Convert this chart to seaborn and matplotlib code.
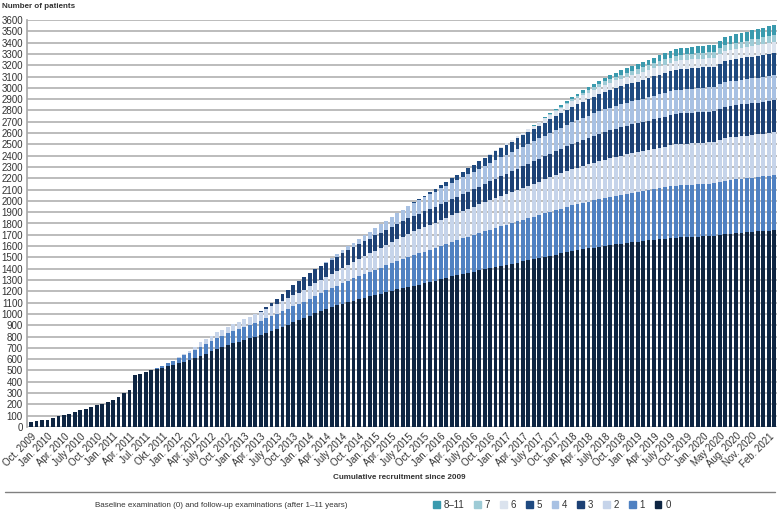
import matplotlib
matplotlib.use('Agg')

import matplotlib.pyplot as plt
from matplotlib.patches import Patch
from matplotlib.lines import Line2D
import seaborn as sns
import numpy as np
import pandas as pd

# tick labels, one every 3 bars (April 2020 has no bar)
TICK_LABELS = [
    'Oct. 2009', 'Jan. 2010', 'Apr. 2010', 'July 2010', 'Oct. 2010', 'Jan. 2011',
    'Apr. 2011', 'Jul. 2011', 'Okt. 2011', 'Jan. 2012', 'Apr. 2012', 'July 2012',
    'Oct. 2012', 'Jan. 2013', 'Apr. 2013', 'July 2013', 'Oct. 2013', 'Jan. 2014',
    'Apr. 2014', 'July 2014', 'Oct. 2014', 'Jan. 2015', 'Apr. 2015', 'July 2015',
    'Oct. 2015', 'Jan. 2016', 'Apr. 2016', 'July 2016', 'Oct. 2016', 'Jan. 2017',
    'Apr. 2017', 'July 2017', 'Oct. 2017', 'Jan. 2018', 'Apr. 2018', 'July 2018',
    'Oct. 2018', 'Jan. 2019', 'Apr. 2019', 'July 2019', 'Oct. 2019', 'Jan. 2020',
    'May 2020', 'Aug. 2020', 'Nov. 2020', 'Feb. 2021',
]

LAYER_NAMES = ['0', '1', '2', '3', '4', '5', '6', '7', '8–11']

# patients per examination wave, one value per month (Oct 2009 - Mar 2021)
exam_0 = [
    45, 55, 60, 63, 80, 95, 105, 112, 130, 148, 158, 178,
    192, 200, 225, 242, 265, 300, 330, 460, 470, 485, 500, 512,
    525, 538, 550, 562, 575, 590, 610, 628, 648, 668, 690, 708,
    725, 740, 755, 770, 785, 800, 815, 832, 850, 868, 885, 905,
    925, 945, 963, 985, 1005, 1025, 1045, 1060, 1075, 1090, 1105, 1118,
    1130, 1142, 1155, 1168, 1180, 1193, 1205, 1218, 1230, 1240, 1250, 1260,
    1270, 1280, 1292, 1305, 1318, 1332, 1344, 1355, 1365, 1375, 1385, 1395,
    1405, 1415, 1425, 1435, 1445, 1455, 1465, 1475, 1485, 1495, 1505, 1515,
    1525, 1535, 1545, 1555, 1563, 1571, 1579, 1587, 1595, 1603, 1610, 1617,
    1623, 1629, 1635, 1640, 1645, 1650, 1655, 1660, 1665, 1670, 1675, 1678,
    1680, 1682, 1684, 1686, 1688, 1690, 1698, 1706, 1710, 1714, 1718, 1722,
    1726, 1730, 1734, 1738, 1742,
]
exam_1 = [0] * 22 + [
    5, 10,
    18, 28, 38, 48, 58, 65, 72, 80, 85, 90, 95, 100,
    104, 107, 110, 114, 118, 121, 125, 128, 131, 134, 137, 139,
    141, 143, 145, 150, 155, 160, 165, 170, 175, 182, 189, 196,
    203, 209, 215, 222, 229, 236, 243, 250, 256, 263, 270, 275,
    280, 285, 290, 295, 300, 305, 309, 314, 319, 324, 330, 335,
    340, 345, 350, 354, 358, 363, 367, 371, 376, 380, 385, 389,
    393, 397, 401, 405, 409, 412, 415, 418, 421, 424, 427, 430,
    432, 435, 438, 440, 443, 446, 449, 452, 455, 458, 460, 461,
    462, 462, 463, 463, 464, 464, 470, 474, 476, 477, 478, 479,
    480, 481, 483, 485, 486,
]
exam_2 = [0] * 27 + [
    5, 12, 20, 30, 40, 44, 48, 51, 54,
    57, 60, 64, 68, 72, 76, 80, 83, 86, 89, 92, 95,
    98, 101, 103, 108, 112, 117, 121, 126, 130, 136, 142, 148,
    154, 160, 165, 171, 177, 182, 188, 193, 199, 204, 210, 214,
    218, 222, 226, 230, 233, 236, 239, 243, 247, 251, 255, 259,
    263, 267, 270, 274, 278, 281, 285, 289, 292, 296, 300, 304,
    308, 312, 316, 320, 323, 327, 330, 333, 336, 339, 341, 343,
    345, 347, 349, 350, 352, 354, 356, 358, 360, 362, 364, 365,
    365, 366, 366, 366, 367, 367, 371, 374, 375, 376, 377, 377,
    378, 378, 379, 379, 380,
]
exam_3 = [0] * 42 + [
    10, 20, 30, 45, 60, 75,
    90, 105, 118, 120, 122, 123, 124, 125, 126, 127, 128, 129,
    130, 131, 132, 133, 134, 135, 136, 137, 137, 138, 138, 139,
    139, 140, 140, 141, 141, 142, 142, 146, 150, 153, 157, 161,
    165, 169, 173, 177, 181, 185, 189, 193, 197, 201, 205, 209,
    213, 217, 221, 225, 228, 231, 234, 237, 240, 243, 245, 248,
    250, 252, 254, 255, 257, 259, 261, 263, 265, 267, 268, 269,
    269, 270, 270, 270, 271, 271, 275, 278, 279, 279, 280, 280,
    281, 281, 282, 282, 283,
]
exam_4 = [0] * 54 + [
    5, 10, 20, 27, 34, 40,
    47, 54, 60, 67, 74, 80, 87, 93, 100, 107, 115, 120,
    125, 130, 135, 139, 143, 147, 150, 152, 154, 156, 158, 160,
    162, 164, 166, 168, 170, 172, 174, 176, 178, 180, 182, 184,
    186, 188, 190, 192, 194, 195, 197, 198, 199, 200, 201, 202,
    203, 204, 205, 205, 206, 207, 208, 209, 210, 211, 212, 212,
    213, 213, 213, 213, 214, 214, 216, 217, 217, 218, 218, 219,
    219, 220, 220, 221, 221,
]
exam_5 = [0] * 70 + [
    5, 10,
    15, 20, 25, 30, 35, 40, 44, 49, 54, 59, 64, 69,
    74, 79, 84, 88, 92, 96, 100, 104, 108, 112, 116, 120,
    124, 128, 132, 136, 139, 142, 145, 148, 151, 154, 157, 159,
    161, 163, 165, 166, 168, 170, 172, 174, 176, 178, 180, 180,
    181, 181, 181, 182, 182, 182, 185, 188, 189, 190, 191, 192,
    193, 193, 194, 194, 195,
]
exam_6 = [0] * 84 + [
    5, 8, 12, 15, 18, 21, 24, 27, 30, 33, 36, 39,
    42, 45, 48, 51, 54, 56, 58, 60, 62, 64, 65, 66,
    67, 68, 69, 70, 71, 72, 73, 74, 75, 76, 77, 78,
    78, 79, 79, 79, 80, 80, 83, 86, 87, 88, 89, 90,
    91, 92, 93, 94, 95,
]
exam_7 = [0] * 94 + [
    3, 6,
    9, 12, 15, 18, 20, 22, 24, 26, 28, 30, 32, 34,
    36, 37, 38, 40, 41, 42, 43, 44, 45, 46, 47, 48,
    48, 48, 49, 49, 49, 50, 52, 55, 56, 57, 58, 59,
    60, 61, 62, 64, 65,
]
exam_8_11 = [0] * 92 + [
    3, 5, 7, 9,
    11, 13, 15, 17, 19, 21, 23, 25, 27, 30, 33, 36,
    39, 41, 43, 45, 47, 49, 51, 53, 55, 57, 59, 60,
    60, 60, 61, 61, 61, 62, 66, 70, 72, 74, 76, 78,
    80, 82, 84, 86, 88,
]

COLORS = ['#0e2542', '#4f81c2', '#c6d4ea', '#1d4175', '#a8c1e3',
          '#1f4a80', '#dbe3ee', '#9ecbd6', '#3a9aae']

layers = [exam_0, exam_1, exam_2, exam_3, exam_4, exam_5, exam_6, exam_7, exam_8_11]
n = len(exam_0)
tops = np.cumsum(np.array(layers), axis=0)

sns.set_theme(style='white')
plt.rcParams['font.family'] = ['Liberation Sans', 'DejaVu Sans']

fig = plt.figure(figsize=(7.78, 5.11), dpi=100)
ax = fig.add_axes([27 / 778, 1 - 427 / 511, 750 / 778, 407 / 511])

df = pd.DataFrame({'month': np.arange(n)})
# stacked bars: draw the cumulative tops from the highest layer down
for k in range(len(layers) - 1, -1, -1):
    df['top'] = tops[k]
    sns.barplot(data=df, x='month', y='top', color=COLORS[k], saturation=1,
                width=0.7, errorbar=None, linewidth=0, ax=ax)

ax.set_xlim(-0.75, n - 0.5)
ax.set_ylim(0, 3600)
ax.set_yticks(range(0, 3700, 100))
ax.yaxis.grid(True, color='#a9a9a9', linewidth=1.1)
ax.set_axisbelow(True)
for side in ['top', 'right', 'bottom']:
    ax.spines[side].set_visible(False)
ax.spines['left'].set_color('#a9a9a9')
ax.tick_params(axis='y', length=0, pad=3, labelsize=7, labelcolor='#333333')

ax.set_xticks(range(0, n, 3))
ax.set_xticklabels(TICK_LABELS, rotation=45, ha='right', rotation_mode='anchor')
ax.tick_params(axis='x', length=0, pad=3, labelsize=7, labelcolor='#333333')
ax.set_xlabel('')
ax.set_ylabel('')

fig.text(0.002, 1 - 6 / 511, 'Number of patients', fontsize=5.8, weight='bold',
         color='#333333', va='center')
fig.text(399 / 778, 1 - 477 / 511, 'Cumulative recruitment since 2009', fontsize=5.8,
         weight='bold', color='#333333', ha='center', va='center')

fig.add_artist(Line2D([5 / 778, 775 / 778], [1 - 492 / 511] * 2,
                      color='#808080', linewidth=1))
fig.text(95 / 778, 1 - 505 / 511,
         'Baseline examination (0) and follow-up examinations (after 1–11 years)',
         fontsize=5.8, color='#333333', va='center')

handles = [Patch(color=COLORS[k]) for k in range(len(layers) - 1, -1, -1)]
labels = LAYER_NAMES[::-1]
fig.legend(handles, labels, ncol=9, loc='center left',
           bbox_to_anchor=(428 / 778, 1 - 505 / 511), frameon=False, fontsize=7,
           handlelength=0.7, handleheight=0.7, handletextpad=0.4,
           columnspacing=1.0, borderpad=0, labelcolor='#333333')

fig.savefig('out.png', dpi=100)
